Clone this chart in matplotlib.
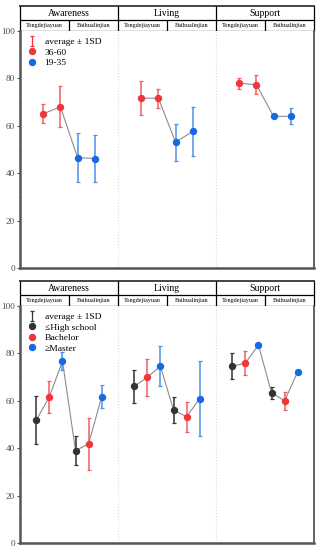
"""Mean +/- 1SD point charts by site, age group and education level."""

import matplotlib

matplotlib.use("Agg")
import matplotlib.pyplot as plt
import numpy as np
from matplotlib.lines import Line2D
from matplotlib.path import Path

plt.rcParams["font.family"] = ["Liberation Serif", "DejaVu Serif"]

dimensions = ["Awareness", "Living", "Support"]
sites = ["Tongdejiayuan", "Baihualinjian"]

# top panel: age groups, points ordered left to right within each dimension
age_labels = ["36-60", "19-35"]
age_point_group = [0, 0, 1, 1]
age_mean = [
    [65.1, 68.0, 46.6, 46.2],
    [71.7, 71.6, 53.1, 57.6],
    [78.0, 77.3, 64.0, 64.0],
]
age_sd = [
    [4.1, 8.6, 10.5, 9.8],
    [7.3, 4.0, 7.8, 10.3],
    [2.3, 4.0, 0.4, 3.3],
]

# bottom panel: education level, three per site
edu_labels = ["≤High school", "Bachelor", "≥Master"]
edu_point_group = [0, 1, 2, 0, 1, 2]
edu_mean = [
    [51.9, 61.7, 76.8, 39.0, 41.8, 61.7],
    [66.1, 70.0, 74.6, 56.1, 53.3, 60.9],
    [74.6, 75.9, 83.5, 63.4, 60.0, 72.2],
]
edu_sd = [
    [10.3, 6.8, 3.9, 6.0, 11.1, 4.8],
    [7.0, 7.8, 8.5, 5.5, 6.4, 15.8],
    [5.4, 5.2, 0.0, 2.5, 3.7, 0.0],
]

RED = "#F0353B"
BLUE = "#1668E3"
BLACK = "#333333"
ERR = {RED: "#F25D62", BLUE: "#4F8FEA", BLACK: "#333333"}

W, H = 319, 550

# I-shaped marker used as the "average ± 1SD" legend symbol
ERRBAR_MARKER = Path(
    [(-0.45, 1), (0.45, 1), (0, 1), (0, -1), (-0.45, -1), (0.45, -1)],
    [Path.MOVETO, Path.LINETO, Path.MOVETO, Path.LINETO, Path.MOVETO, Path.LINETO],
)


def px_axes(fig, left, top, right, bottom):
    return fig.add_axes([left / W, 1 - bottom / H, (right - left) / W, (bottom - top) / H])


def draw_header(ax):
    ax.set_xlim(0, 3)
    ax.set_ylim(25, 0)
    ax.axis("off")
    kw = dict(color="black", lw=0.9, clip_on=False, solid_capstyle="butt")
    ax.plot([0, 3], [0, 0], color="#444444", lw=1.4, clip_on=False)
    ax.plot([0, 3], [14, 14], **kw)
    ax.plot([0, 3], [25, 25], **kw)
    for x in range(4):
        ax.plot([x, x], [0, 25], **kw)
    for i, name in enumerate(dimensions):
        ax.text(i + 0.5, 7.2, name, ha="center", va="center", fontsize=7)
        ax.plot([i + 0.5, i + 0.5], [14, 25], **kw)
        for j, site in enumerate(sites):
            ax.text(i + 0.25 + 0.5 * j, 19.6, site, ha="center", va="center", fontsize=4.4)


def draw_panel(fig, top, means, sds, point_group, colors, labels, legend_err_color, step):
    draw_header(px_axes(fig, 20, top, 314, top + 25))
    ax = px_axes(fig, 20, top + 25, 314, top + 262)

    n = len(point_group)
    offsets = (np.arange(n) - (n - 1) / 2) * step
    for i in range(len(dimensions)):
        xs = i + 0.5 + offsets
        ax.plot(xs, means[i], color="#8c8c8c", lw=0.8, zorder=2)
        for x, m, s, g in zip(xs, means[i], sds[i], point_group):
            c = colors[g]
            if s > 0:
                ax.errorbar(x, m, yerr=s, fmt="none", ecolor=ERR[c], elinewidth=1.1,
                            capsize=1.7, capthick=0.9, zorder=3)
            ax.plot(x, m, "o", color=c, markersize=4.3, zorder=4)

    for x in (1, 2):
        ax.axvline(x, color="#dcdcdc", ls=":", lw=0.8, zorder=0)

    ax.set_xlim(0, 3)
    ax.set_ylim(0, 100)
    ax.set_xticks([])
    ax.set_yticks(np.arange(0, 101, 20))
    ax.set_yticks(np.arange(10, 100, 20), minor=True)
    ax.tick_params(axis="y", which="major", direction="out", length=2.5, width=0.8,
                   labelsize=6.6, labelcolor="#4a4a4a", color="#555555", pad=1)
    ax.tick_params(axis="y", which="minor", direction="inout", length=2, width=0.7,
                   color="#555555")
    ax.spines["top"].set_visible(False)
    for side, lw in (("left", 1.8), ("bottom", 1.8), ("right", 1.3)):
        ax.spines[side].set_linewidth(lw)
        ax.spines[side].set_color("#555555")

    handles = [Line2D([], [], ls="none", marker=ERRBAR_MARKER, markersize=7,
                      markerfacecolor="none", markeredgecolor=legend_err_color,
                      markeredgewidth=0.9)]
    handles += [Line2D([], [], ls="none", marker="o", markersize=4.3, color=c) for c in colors]
    ax.legend(handles, ["average ± 1SD"] + labels, loc="upper left",
              bbox_to_anchor=(0.0, 1.0), frameon=False, fontsize=6.8,
              handlelength=1.2, handletextpad=0.7, labelspacing=0.2,
              borderaxespad=0.4, borderpad=0.3)
    return ax


fig = plt.figure(figsize=(W / 100, H / 100), dpi=100)
draw_panel(fig, 6, age_mean, age_sd, age_point_group, [RED, BLUE], age_labels,
           RED, 17.1 / 98)
draw_panel(fig, 281, edu_mean, edu_sd, edu_point_group, [BLACK, RED, BLUE], edu_labels,
           BLACK, 13.06 / 98)
fig.savefig("out.png", dpi=100)
